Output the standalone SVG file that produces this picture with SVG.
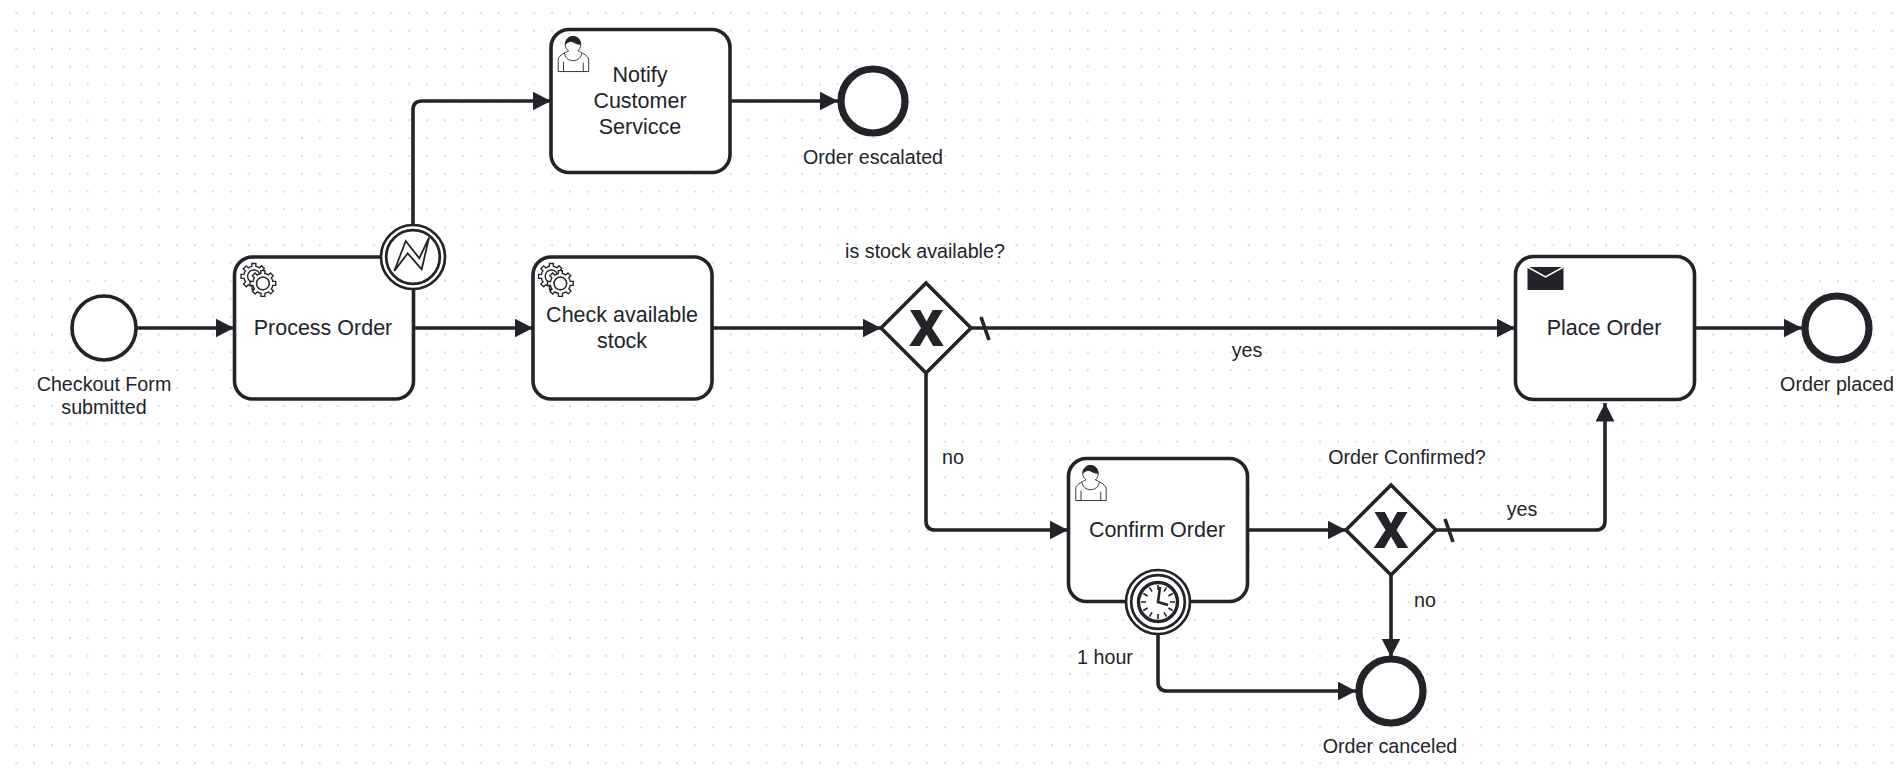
<svg xmlns="http://www.w3.org/2000/svg" width="1899" height="769" viewBox="0 0 1899 769">
<style>
text{font-family:"Liberation Sans",Arial,sans-serif;font-size:19.7px;fill:#22242a;text-anchor:middle}
text.tt{font-size:21.5px}
.task{fill:#fff;stroke:#22242a;stroke-width:3.6}
.flow{fill:none;stroke:#22242a;stroke-width:3.6;marker-end:url(#arrow)}
.line{fill:none;stroke:#22242a;stroke-width:3.6}
.start{fill:#fff;stroke:#22242a;stroke-width:3.6}
.end{fill:#fff;stroke:#22242a;stroke-width:7.2}
.bnd{fill:#fff;stroke:#22242a;stroke-width:2.7}
.gw{fill:#fff;stroke:#22242a;stroke-width:3.6}
.mark{fill:#22242a}
.gear{fill:#fff;stroke:#22242a;stroke-width:.75}
.usr{fill:#fff;stroke:#22242a;stroke-width:.5}
.usrk{fill:#22242a;stroke:#22242a;stroke-width:.5}
</style>
<defs>
<pattern id="dots" width="17.86" height="17.86" patternUnits="userSpaceOnUse" x="7.37" y="4.07"><circle cx="8.93" cy="8.93" r="0.95" fill="#cfcfcf"/></pattern>
<marker id="arrow" markerUnits="userSpaceOnUse" markerWidth="20" markerHeight="20" refX="18.5" refY="9.5" orient="auto"><path d="M0,0L18.5,9.5L0,19z" fill="#22242a"/></marker>
<path id="gearp" d="m 0,0 v -1.71335 c 0.352326,-0.0705 0.703932,-0.17838 1.047628,-0.32133 0.344416,-0.14465 0.665822,-0.32133 0.966377,-0.52145 l 1.19431,1.18005 1.567487,-1.57688 -1.195028,-1.18014 c 0.403376,-0.61394 0.683079,-1.29908 0.825447,-2.01824 l 1.622133,-0.01 v -2.2196 l -1.636514,0.01 c -0.07333,-0.35153 -0.178319,-0.70024 -0.323564,-1.04372 -0.145244,-0.34406 -0.321407,-0.6644 -0.522735,-0.96217 l 1.131035,-1.13631 -1.583305,-1.56293 -1.129598,1.13589 c -0.614052,-0.40108 -1.302883,-0.68093 -2.022633,-0.82247 l 0.0093,-1.61852 h -2.241173 l 0.0042,1.63124 c -0.353763,0.0736 -0.705369,0.17977 -1.049785,0.32371 -0.344415,0.14437 -0.665102,0.32092 -0.9635006,0.52046 l -1.1698628,-1.15823 -1.5667691,1.5792 1.1684265,1.15669 c -0.4026573,0.61283 -0.68308,1.29797 -0.8247287,2.01713 l -1.6588041,0.003 v 2.22174 l 1.6724648,-0.006 c 0.073327,0.35077 0.1797598,0.70243 0.3242851,1.04472 0.1452428,0.34448 0.3214064,0.6644 0.5227339,0.96066 l -1.1993431,1.19723 1.5840256,1.56011 1.1964668,-1.19348 c 0.6133577,0.40346 1.3021895,0.68232 2.0219395,0.82331 l 7.2e-4,1.69892 h 2.226848 z m 0.221462,-3.9957 c -1.788948,0.7502 -3.8576,-0.0928 -4.6097055,-1.87438 -0.7521065,-1.78321 0.090598,-3.84627 1.8802645,-4.59604 1.78823,-0.74936 3.856881,0.0929 4.608987,1.87437 0.752106,1.78165 -0.0906,3.84612 -1.879546,4.59605 z"/>
<g id="gears" transform="scale(1.79)"><use href="#gearp" x="12" y="18" class="gear"/><use href="#gearp" x="17" y="22" class="gear"/><circle class="gear" cx="15.85" cy="14.77" r="3.5"/></g>
<g id="user" transform="scale(1.79)">
<path class="usr" d="m 15,12 c 0.909,-0.845 1.594,-2.049 1.594,-3.385 0,-2.554 -1.805,-4.622 -4.357,-4.622 -2.552,0 -4.288,2.068 -4.288,4.622 0,1.348 0.974,2.562 1.896,3.405 -0.529,0.187 -5.669,2.097 -5.794,4.756 v 6.718 h 17 v -6.718 c 0,-2.298 -5.528,-4.595 -6.051,-4.776 z m -8,6 l 0,5.5 m 11,0 l 0,-5"/>
<path class="usr" d="m 15,12 m 2.162,1.009 c 0,2.447 -2.158,4.431 -4.821,4.431 -2.665,0 -4.822,-1.981 -4.822,-4.431"/>
<path class="usrk" d="m 15,12 m -6.9,-3.8 c 0,0 2.251,-2.358 4.274,-1.177 2.024,1.181 4.221,1.537 4.124,0.965 -0.098,-0.57 -0.117,-3.791 -4.191,-4.136 -3.575,0.001 -4.208,3.367 -4.207,4.348 z"/>
</g>
<polygon id="xmark" class="mark" points="-16.5,-18 -6.2,-18 0,-6.5 6.2,-18 16.5,-18 5.5,0 17.3,18 6.6,18 0,6.5 -6.6,18 -17.3,18 -5.5,0"/>
</defs>
<rect width="1899" height="769" fill="#fff"/>
<rect width="1899" height="769" fill="url(#dots)"/>

<g id="connectors">
<path class="flow" d="M137,328H234"/>
<path class="flow" d="M413,225V110Q413,101 422,101H551"/>
<path class="flow" d="M413,328H533"/>
<path class="flow" d="M730,101H838"/>
<path class="flow" d="M712,328H881"/>
<path class="flow" d="M971,328H1515"/>
<path class="line" d="M981,317L989,340"/>
<path class="flow" d="M926,373V521Q926,530 935,530H1068"/>
<path class="flow" d="M1248,530H1346"/>
<path class="flow" d="M1436,530H1596Q1605,530 1605,521V403"/>
<path class="line" d="M1445,519L1453,542"/>
<path class="flow" d="M1391,575V657"/>
<path class="flow" d="M1158,635V682Q1158,691 1167,691H1356"/>
<path class="flow" d="M1695,328H1802"/>
</g>

<g id="start"><circle class="start" cx="104" cy="328" r="32"/><text x="104" y="391">Checkout Form</text><text x="104" y="414">submitted</text></g>

<g id="process-order"><rect class="task" x="234.5" y="257" width="179" height="142" rx="18"/><use href="#gears" x="234.5" y="257"/><text class="tt" x="323" y="335">Process Order</text></g>
<g id="error-boundary"><circle class="bnd" cx="413" cy="257" r="32"/><circle class="bnd" cx="413" cy="257" r="26.8"/><path d="M394.3,271L405.7,241L419.3,258.3L429,237.7L421.7,269.3L407.7,253.3Z" fill="#fff" stroke="#22242a" stroke-width="1.8"/></g>

<g id="notify"><rect class="task" x="551" y="29.5" width="179" height="143" rx="18"/><use href="#user" x="551" y="29.5"/><text class="tt" x="640" y="82">Notify</text><text class="tt" x="640" y="108">Customer</text><text class="tt" x="640" y="133.5">Servicce</text></g>
<g id="order-escalated"><circle class="end" cx="873" cy="101" r="32"/><text x="873" y="164">Order escalated</text></g>

<g id="check-stock"><rect class="task" x="533" y="257" width="179" height="142" rx="18"/><use href="#gears" x="532" y="257"/><text class="tt" x="622" y="322">Check available</text><text class="tt" x="622" y="348">stock</text></g>

<g id="gateway-stock"><polygon class="gw" points="926,283 971,328 926,373 881,328"/><use href="#xmark" x="926.5" y="328"/><text x="925" y="258">is stock available?</text></g>
<text id="label-yes1" x="1247" y="357">yes</text>
<text id="label-no1" x="953" y="464">no</text>

<g id="place-order"><rect class="task" x="1515.5" y="256.5" width="179" height="143" rx="18"/><rect x="1527.5" y="267" width="36" height="23" fill="#22242a"/><path d="M1527.5,267L1545.5,277L1563.5,267" fill="none" stroke="#fff" stroke-width="1.5"/><text class="tt" x="1604" y="335">Place Order</text></g>
<g id="order-placed"><circle class="end" cx="1837" cy="328" r="32"/><text x="1837" y="391">Order placed</text></g>

<g id="confirm-order"><rect class="task" x="1068.5" y="458.5" width="179" height="143" rx="18"/><use href="#user" x="1068.5" y="458.5"/><text class="tt" x="1157" y="537">Confirm Order</text></g>
<g id="timer-boundary"><circle class="bnd" cx="1158" cy="602" r="32"/><circle class="bnd" cx="1158" cy="602" r="26.8"/><circle cx="1158" cy="602" r="19.5" fill="#fff" stroke="#22242a" stroke-width="3.4"/>
<path d="M1158,585V590M1158,614V619M1141,602H1146M1170,602H1175M1149.5,587.3L1152,591.6M1166.5,616.7L1164,612.4M1143.3,593.5L1147.6,596M1172.7,610.5L1168.4,608M1143.3,610.5L1147.6,608M1172.7,593.5L1168.4,596M1149.5,616.7L1152,612.4M1166.5,587.3L1164,591.6" stroke="#22242a" stroke-width="1.6" fill="none"/>
<path d="M1160,587L1158,602L1168,605" stroke="#22242a" stroke-width="2.6" fill="none"/>
<text x="1105" y="664">1 hour</text></g>

<g id="gateway-confirmed"><polygon class="gw" points="1391,485 1436,530 1391,575 1346,530"/><use href="#xmark" x="1391" y="530"/><text x="1407" y="464">Order Confirmed?</text></g>
<text id="label-yes2" x="1522" y="516">yes</text>
<text id="label-no2" x="1425" y="607">no</text>

<g id="order-canceled"><circle class="end" cx="1391" cy="691" r="32"/><text x="1390" y="753">Order canceled</text></g>
</svg>
